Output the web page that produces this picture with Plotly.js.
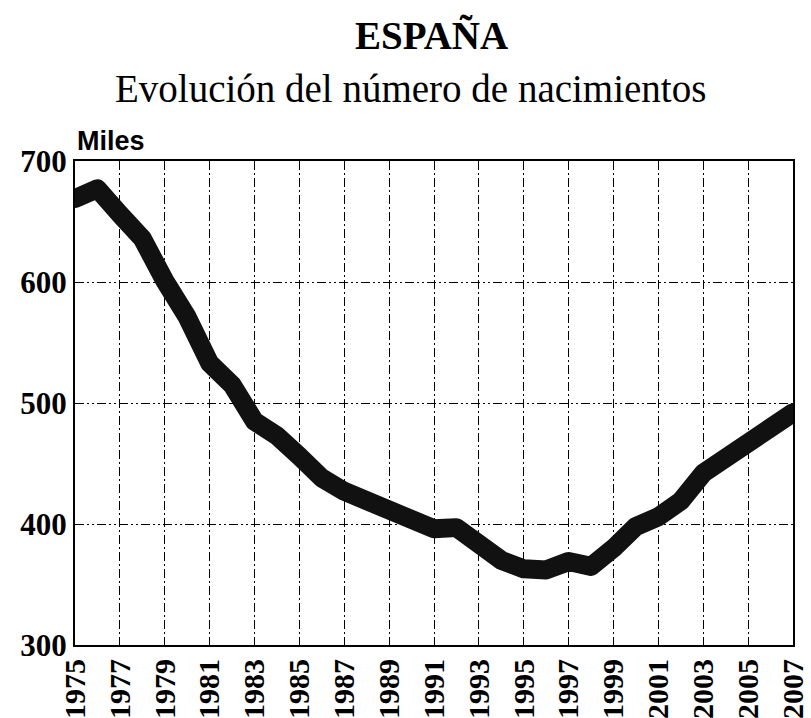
<!DOCTYPE html>
<html>
<head>
<meta charset="utf-8">
<script src="https://cdn.plot.ly/plotly-3.0.1.min.js"></script>
<style>
html,body{margin:0;padding:0;background:#fff;}
#chart{width:811px;height:718px;}
#chart .js-line{stroke-linecap:round;stroke-linejoin:round;}
</style>
</head>
<body>
<div id="chart"></div>
<script>
const years = [1975,1976,1977,1978,1979,1980,1981,1982,1983,1984,1985,1986,1987,1988,1989,1990,1991,1992,1993,1994,1995,1996,1997,1998,1999,2000,2001,2002,2003,2004,2005,2006,2007];
const births = [669,677,656,636,601,571,533,515,485,473,456,438,427,419,408,401,396,397,385,370,363,362,369,365,380,398,406,419,442,455,467,482,492];
const yTicks = [300,400,500,600,700];
const xTicks = [1975,1977,1979,1981,1983,1985,1987,1989,1991,1993,1995,1997,1999,2001,2003,2005,2007];

const trace = {
  x: years, y: births, type: 'scatter', mode: 'lines',
  line: {color: '#111111', width: 19, shape: 'linear'},
  hoverinfo: 'x+y'
};

const layout = {
  width: 811, height: 718,
  margin: {l: 75, r: 18, t: 161, b: 73},
  paper_bgcolor: '#ffffff', plot_bgcolor: '#ffffff',
  showlegend: false,
  xaxis: {
    range: [1975, 2007],
    tickmode: 'array', tickvals: xTicks, ticktext: xTicks.map(String),
    tickangle: -90,
    tickfont: {family: 'Liberation Serif, Times New Roman, serif', size: 30, color: '#000', weight: 'bold'},
    showgrid: true, gridcolor: '#000', gridwidth: 1, griddash: '9px,3px,2px,3px',
    zeroline: false, showline: true, linecolor: '#000', linewidth: 2, mirror: true,
    ticks: '', ticklen: 0, automargin: false
  },
  yaxis: {
    range: [300, 700],
    tickmode: 'array', tickvals: yTicks, ticktext: yTicks.map(String),
    tickfont: {family: 'Liberation Serif, Times New Roman, serif', size: 31, color: '#000', weight: 'bold'},
    showgrid: true, gridcolor: '#000', gridwidth: 1, griddash: '9px,3px,2px,3px,2px,3px',
    zeroline: false, showline: true, linecolor: '#000', linewidth: 2, mirror: true,
    ticks: '', ticklen: 0, automargin: false
  },
  annotations: [
    {text: 'ESPAÑA', xref: 'paper', yref: 'paper', x: 0.497, y: 1, yshift: 126, xanchor: 'center', yanchor: 'middle', showarrow: false,
     font: {family: 'Liberation Serif, Times New Roman, serif', size: 39, color: '#000', weight: 'bold'}},
    {text: 'Evolución del número de nacimientos', xref: 'paper', yref: 'paper', x: 0.467, y: 1, yshift: 73, xanchor: 'center', yanchor: 'middle', showarrow: false,
     font: {family: 'Liberation Serif, Times New Roman, serif', size: 39, color: '#000'}},
    {text: 'Miles', xref: 'paper', yref: 'paper', x: 0, y: 1, yshift: 20, xanchor: 'left', yanchor: 'middle', showarrow: false,
     font: {family: 'Liberation Sans, Arial, sans-serif', size: 27, color: '#000', weight: 'bold'}}
  ]
};

Plotly.newPlot('chart', [trace], layout, {displayModeBar: false, staticPlot: true});
</script>
</body>
</html>
